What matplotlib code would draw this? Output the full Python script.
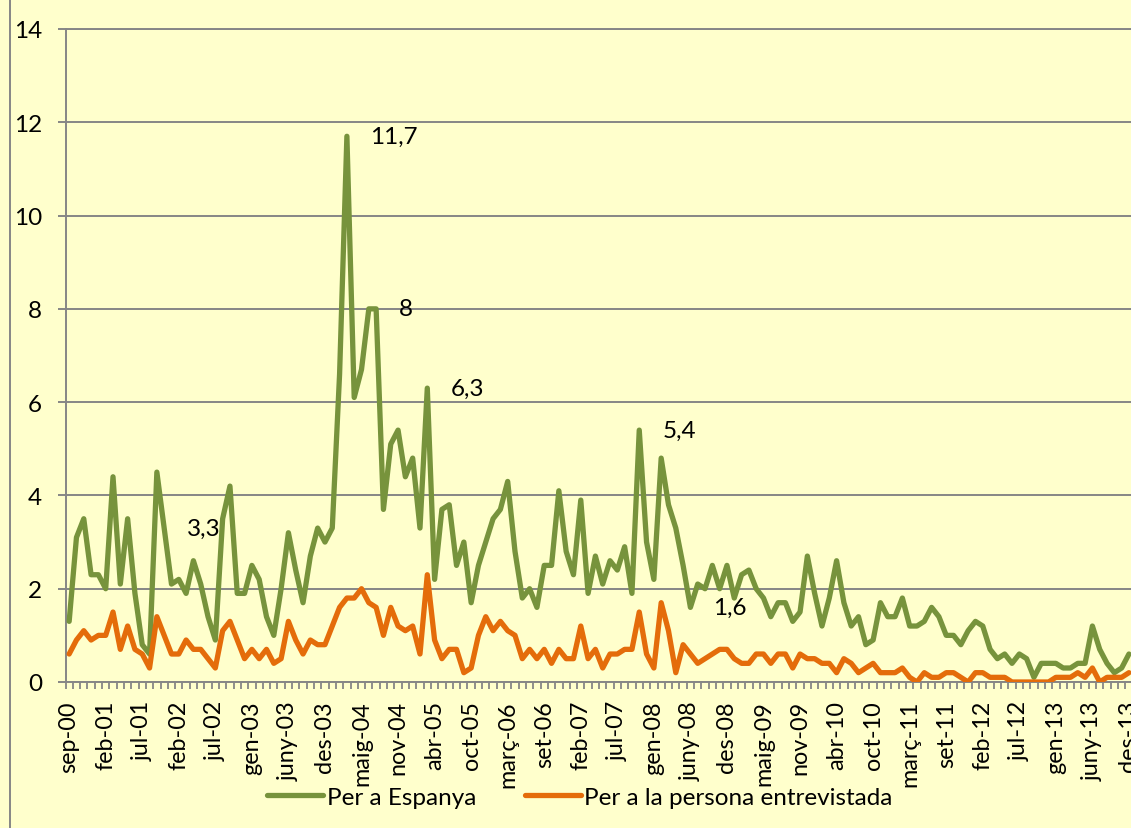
import matplotlib
matplotlib.use('Agg')
import matplotlib.pyplot as plt
from matplotlib.lines import Line2D
import numpy as np

# --- data -----------------------------------------------------------------
espanya = [1.3, 3.1, 3.5, 2.3, 2.3, 2.0, 4.4, 2.1, 3.5, 1.9,
           0.8, 0.6, 4.5, 3.3, 2.1, 2.2, 1.9, 2.6, 2.1, 1.4,
           0.9, 3.5, 4.2, 1.9, 1.9, 2.5, 2.2, 1.4, 1.0, 2.0,
           3.2, 2.4, 1.7, 2.7, 3.3, 3.0, 3.3, 6.6, 11.7, 6.1,
           6.7, 8.0, 8.0, 3.7, 5.1, 5.4, 4.4, 4.8, 3.3, 6.3,
           2.2, 3.7, 3.8, 2.5, 3.0, 1.7, 2.5, 3.0, 3.5, 3.7,
           4.3, 2.8, 1.8, 2.0, 1.6, 2.5, 2.5, 4.1, 2.8, 2.3,
           3.9, 1.9, 2.7, 2.1, 2.6, 2.4, 2.9, 1.9, 5.4, 3.0,
           2.2, 4.8, 3.8, 3.3, 2.5, 1.6, 2.1, 2.0, 2.5, 2.0,
           2.5, 1.8, 2.3, 2.4, 2.0, 1.8, 1.4, 1.7, 1.7, 1.3,
           1.5, 2.7, 1.9, 1.2, 1.8, 2.6, 1.7, 1.2, 1.4, 0.8,
           0.9, 1.7, 1.4, 1.4, 1.8, 1.2, 1.2, 1.3, 1.6, 1.4,
           1.0, 1.0, 0.8, 1.1, 1.3, 1.2, 0.7, 0.5, 0.6, 0.4,
           0.6, 0.5, 0.1, 0.4, 0.4, 0.4, 0.3, 0.3, 0.4, 0.4,
           1.2, 0.7, 0.4, 0.2, 0.3, 0.6]

persona = [0.6, 0.9, 1.1, 0.9, 1.0, 1.0, 1.5, 0.7, 1.2, 0.7,
           0.6, 0.3, 1.4, 1.0, 0.6, 0.6, 0.9, 0.7, 0.7, 0.5,
           0.3, 1.1, 1.3, 0.9, 0.5, 0.7, 0.5, 0.7, 0.4, 0.5,
           1.3, 0.9, 0.6, 0.9, 0.8, 0.8, 1.2, 1.6, 1.8, 1.8,
           2.0, 1.7, 1.6, 1.0, 1.6, 1.2, 1.1, 1.2, 0.6, 2.3,
           0.9, 0.5, 0.7, 0.7, 0.2, 0.3, 1.0, 1.4, 1.1, 1.3,
           1.1, 1.0, 0.5, 0.7, 0.5, 0.7, 0.4, 0.7, 0.5, 0.5,
           1.2, 0.5, 0.7, 0.3, 0.6, 0.6, 0.7, 0.7, 1.5, 0.6,
           0.3, 1.7, 1.1, 0.2, 0.8, 0.6, 0.4, 0.5, 0.6, 0.7,
           0.7, 0.5, 0.4, 0.4, 0.6, 0.6, 0.4, 0.6, 0.6, 0.3,
           0.6, 0.5, 0.5, 0.4, 0.4, 0.2, 0.5, 0.4, 0.2, 0.3,
           0.4, 0.2, 0.2, 0.2, 0.3, 0.1, 0.0, 0.2, 0.1, 0.1,
           0.2, 0.2, 0.1, 0.0, 0.2, 0.2, 0.1, 0.1, 0.1, 0.0,
           0.0, 0.0, 0.0, 0.0, 0.0, 0.1, 0.1, 0.1, 0.2, 0.1,
           0.3, 0.0, 0.1, 0.1, 0.1, 0.2]

tick_labels = ['sep-00', 'feb-01', 'jul-01', 'feb-02', 'jul-02', 'gen-03',
               'juny-03', 'des-03', 'maig-04', 'nov-04', 'abr-05', 'oct-05',
               'març-06', 'set-06', 'feb-07', 'jul-07', 'gen-08', 'juny-08',
               'des-08', 'maig-09', 'nov-09', 'abr-10', 'oct-10', 'març-11',
               'set-11', 'feb-12', 'jul-12', 'gen-13', 'juny-13', 'des-13']
label_step = 5
labelled_points = [13, 38, 42, 49, 78, 85]

series_names = ['Per a Espanya', 'Per a la persona entrevistada']
colors = ['#77933C', '#E46C0A']

# --- style ----------------------------------------------------------------
plt.rcParams['font.family'] = ['Lato', 'DejaVu Sans']
FS = 17.5
FS_X = 16.8
BG = '#FFFFCC'
GRID = '#868686'

W, H = 1131, 829
fig = plt.figure(figsize=(W / 100, H / 100), dpi=100, facecolor=BG)

left_px, right_px, top_px, bot_px = 65.5, 1132.6, 30, 683
ax = fig.add_axes([left_px / W, 1 - bot_px / H,
                   (right_px - left_px) / W, (bot_px - top_px) / H])
ax.set_facecolor(BG)

n = len(espanya)
x = np.arange(n)

l1, = ax.plot(x, espanya, color=colors[0], lw=3.8,
              solid_joinstyle='round', solid_capstyle='round', zorder=3)
l2, = ax.plot(x, persona, color=colors[1], lw=3.8,
              solid_joinstyle='round', solid_capstyle='round', zorder=3)

ax.set_xlim(-0.5, n - 0.5)
ax.set_ylim(0, 14)
ax.set_yticks(range(0, 15, 2))
ax.yaxis.grid(True, color=GRID, lw=1.4)
ax.set_axisbelow(True)

for side in ['left', 'bottom', 'top']:
    ax.spines[side].set_color(GRID)
    ax.spines[side].set_linewidth(1.4)
ax.spines['right'].set_visible(False)

ax.tick_params(axis='y', direction='out', length=6, width=1.4, color=GRID,
               labelsize=FS, pad=11)

major = np.arange(0, n, label_step)
ax.set_xticks(major)
ax.set_xticklabels(tick_labels, rotation=90, fontsize=FS_X)
ax.set_xticks(np.arange(-0.5, n, 1), minor=True)
ax.tick_params(axis='x', which='major', length=0, pad=13)
ax.tick_params(axis='x', which='minor', direction='out', length=5,
               width=1.3, color=GRID)

for i in labelled_points:
    txt = f"{espanya[i]:g}".replace('.', ',')
    ax.annotate(txt, (x[i], espanya[i]), xytext=(23, 0),
                textcoords='offset pixels', ha='left', va='center',
                fontsize=FS, zorder=4)

fig.legend([l1, l2], series_names, loc='center',
           bbox_to_anchor=(580 / W, 1 - 798 / H), ncol=2, frameon=False,
           fontsize=FS, handlelength=2.3, handletextpad=0.15,
           columnspacing=2.0)

fig.add_artist(Line2D([10 / W, 10 / W], [0, 1], color=GRID, lw=1.4,
                      transform=fig.transFigure))

fig.savefig('out.png', dpi=100, facecolor=BG)
